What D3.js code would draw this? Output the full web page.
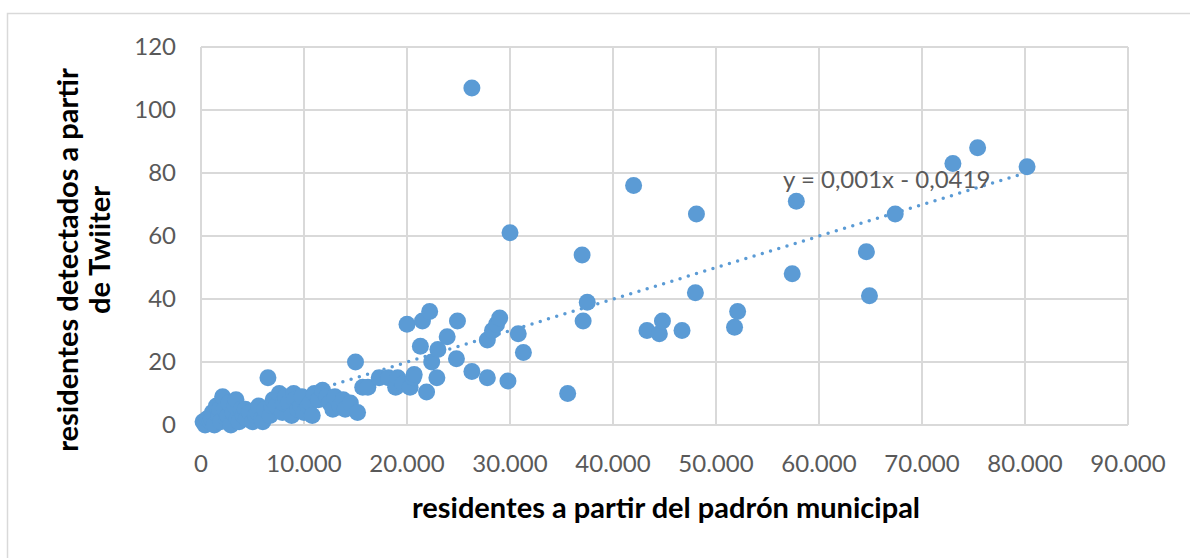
<!DOCTYPE html>
<html lang="es">
<head>
  <meta charset="utf-8">
  <title>Residentes padrón vs Twitter</title>
  <script src="https://cdn.jsdelivr.net/npm/d3@7"></script>
  <style>
    body { margin: 0; background: #fff; overflow: hidden; }
    svg { display: block; }
    .tick-label { font: 24px Lato, sans-serif; fill: #595959; }
    .title { font: bold 29px Lato, sans-serif; fill: #000; }
    .grid line { stroke: #d9d9d9; stroke-width: 2; }
  </style>
</head>
<body>
<div id="chart"></div>
<script>
  // residentes del padrón (x) y residentes detectados en Twitter (y)
  const padron = [
    200, 400, 600, 900, 1000, 1100, 1300, 1500, 1700, 1800, 1900, 2100, 2300, 2500, 2600,
    2700, 2900, 3100, 3300, 3400, 3500, 3700, 3900, 4100, 4300, 4400, 4700, 5000, 5300,
    5500, 5600, 5900, 6000, 6200, 6500, 6700, 6900, 7000, 7300, 7600, 7900, 8000, 8200,
    8500, 8800, 9000, 9100, 9400, 9700, 9800, 10000, 10400, 10600, 10800,
    11000, 11400, 11800, 12200, 12500, 12800, 13000, 13500, 13800, 14000, 14500,
    15000, 15200, 15700, 16200, 17300, 18200, 18900, 19100, 19600, 20000, 20300, 20600,
    20700, 21300, 21500, 21900, 22200, 22400, 22900, 23000, 23900, 24800, 24900, 26300,
    26300, 27800, 27800, 28300, 28700, 29000, 29800, 30000, 30800, 31300, 35600, 37000,
    37100, 37500, 42000, 43300, 44500, 44800, 46700, 48000, 48100, 51800, 52100, 57400,
    57800, 64600, 64900, 67400, 73000, 75400, 80200
  ];
  const twitter = [
    1, 0, 2, 1, 2, 4, 0, 6, 3, 5, 1, 9, 5, 2, 3,
    7, 0, 4, 6, 8, 2, 1, 5, 3, 5, 2, 4, 1, 3,
    4, 6, 2, 1, 5, 15, 3, 6, 8, 6, 10, 4, 7, 9,
    7, 3, 10, 8, 5, 6, 9, 4, 6, 7, 3,
    10, 8, 11, 9, 7, 5, 9, 6, 8, 5, 7,
    20, 4, 12, 12, 15, 15, 12, 15, 13, 32, 12, 15,
    16, 25, 33, 10.5, 36, 20, 15, 24, 28, 21, 33, 17,
    107, 27, 15, 30, 32, 34, 14, 61, 29, 23, 10, 54,
    33, 39, 76, 30, 29, 33, 30, 42, 67, 31, 36, 48,
    71, 55, 41, 67, 83, 88, 82
  ];

  // línea de tendencia lineal
  const slope = 0.001, intercept = -0.0419;
  const equation = "y = 0,001x - 0,0419";

  const xTicks = [0, 10000, 20000, 30000, 40000, 50000, 60000, 70000, 80000, 90000];
  const yTicks = [0, 20, 40, 60, 80, 100, 120];

  const xTitle = "residentes a partir del padrón municipal";
  const yTitle = ["residentes detectados a partir", "de Twiiter"];

  const W = 1190, H = 558;
  const m = {left: 201, right: 1128, top: 47, bottom: 425};

  const svg = d3.select("#chart").append("svg")
    .attr("width", W).attr("height", H);

  // marco del gráfico
  svg.append("rect")
    .attr("x", 7.5).attr("y", 13.5)
    .attr("width", W).attr("height", H)
    .attr("fill", "#fff")
    .attr("stroke", "#d9d9d9").attr("stroke-width", 1.5);

  const x = d3.scaleLinear().domain([0, 90000]).range([m.left, m.right]);
  const y = d3.scaleLinear().domain([0, 120]).range([m.bottom, m.top]);

  const fmt = d3.formatLocale({decimal: ",", thousands: ".", grouping: [3], currency: ["", "€"]}).format(",");

  // rejilla
  const grid = svg.append("g").attr("class", "grid");
  grid.selectAll("line.v").data(xTicks).join("line").attr("class", "v")
    .attr("x1", d => x(d)).attr("x2", d => x(d))
    .attr("y1", m.top).attr("y2", m.bottom);
  grid.selectAll("line.h").data(yTicks).join("line").attr("class", "h")
    .attr("x1", m.left).attr("x2", m.right)
    .attr("y1", d => y(d)).attr("y2", d => y(d));

  // etiquetas de los ejes
  svg.append("g").selectAll("text").data(yTicks).join("text")
    .attr("class", "tick-label")
    .attr("x", 176).attr("y", d => y(d)).attr("dy", "0.35em")
    .attr("text-anchor", "end")
    .text(d => d);

  svg.append("g").selectAll("text").data(xTicks).join("text")
    .attr("class", "tick-label")
    .attr("x", d => x(d)).attr("y", 472)
    .attr("text-anchor", "middle")
    .text(d => fmt(d));

  // tendencia (punteada)
  const xMin = d3.min(padron), xMax = d3.max(padron);
  svg.append("line")
    .attr("x1", x(xMin)).attr("y1", y(slope * xMin + intercept))
    .attr("x2", x(xMax)).attr("y2", y(slope * xMax + intercept))
    .attr("stroke", "#5b9bd5").attr("stroke-width", 3.5)
    .attr("stroke-linecap", "round")
    .attr("stroke-dasharray", "0 8.6");

  // puntos
  const pts = padron.map((v, i) => ({x: v, y: twitter[i]}));
  svg.append("g").selectAll("circle").data(pts).join("circle")
    .attr("cx", d => x(d.x)).attr("cy", d => y(d.y))
    .attr("r", 8.5)
    .attr("fill", "#5b9bd5");

  svg.append("text")
    .attr("class", "tick-label")
    .attr("x", 783).attr("y", 188)
    .text(equation);

  // títulos
  svg.append("text").attr("class", "title")
    .attr("x", 666).attr("y", 518)
    .attr("text-anchor", "middle")
    .text(xTitle);

  svg.append("text").attr("class", "title")
    .attr("transform", "translate(78,260) rotate(-90)")
    .attr("text-anchor", "middle")
    .text(yTitle[0]);
  svg.append("text").attr("class", "title")
    .attr("transform", "translate(110,250) rotate(-90)")
    .attr("text-anchor", "middle")
    .text(yTitle[1]);
</script>
</body>
</html>
